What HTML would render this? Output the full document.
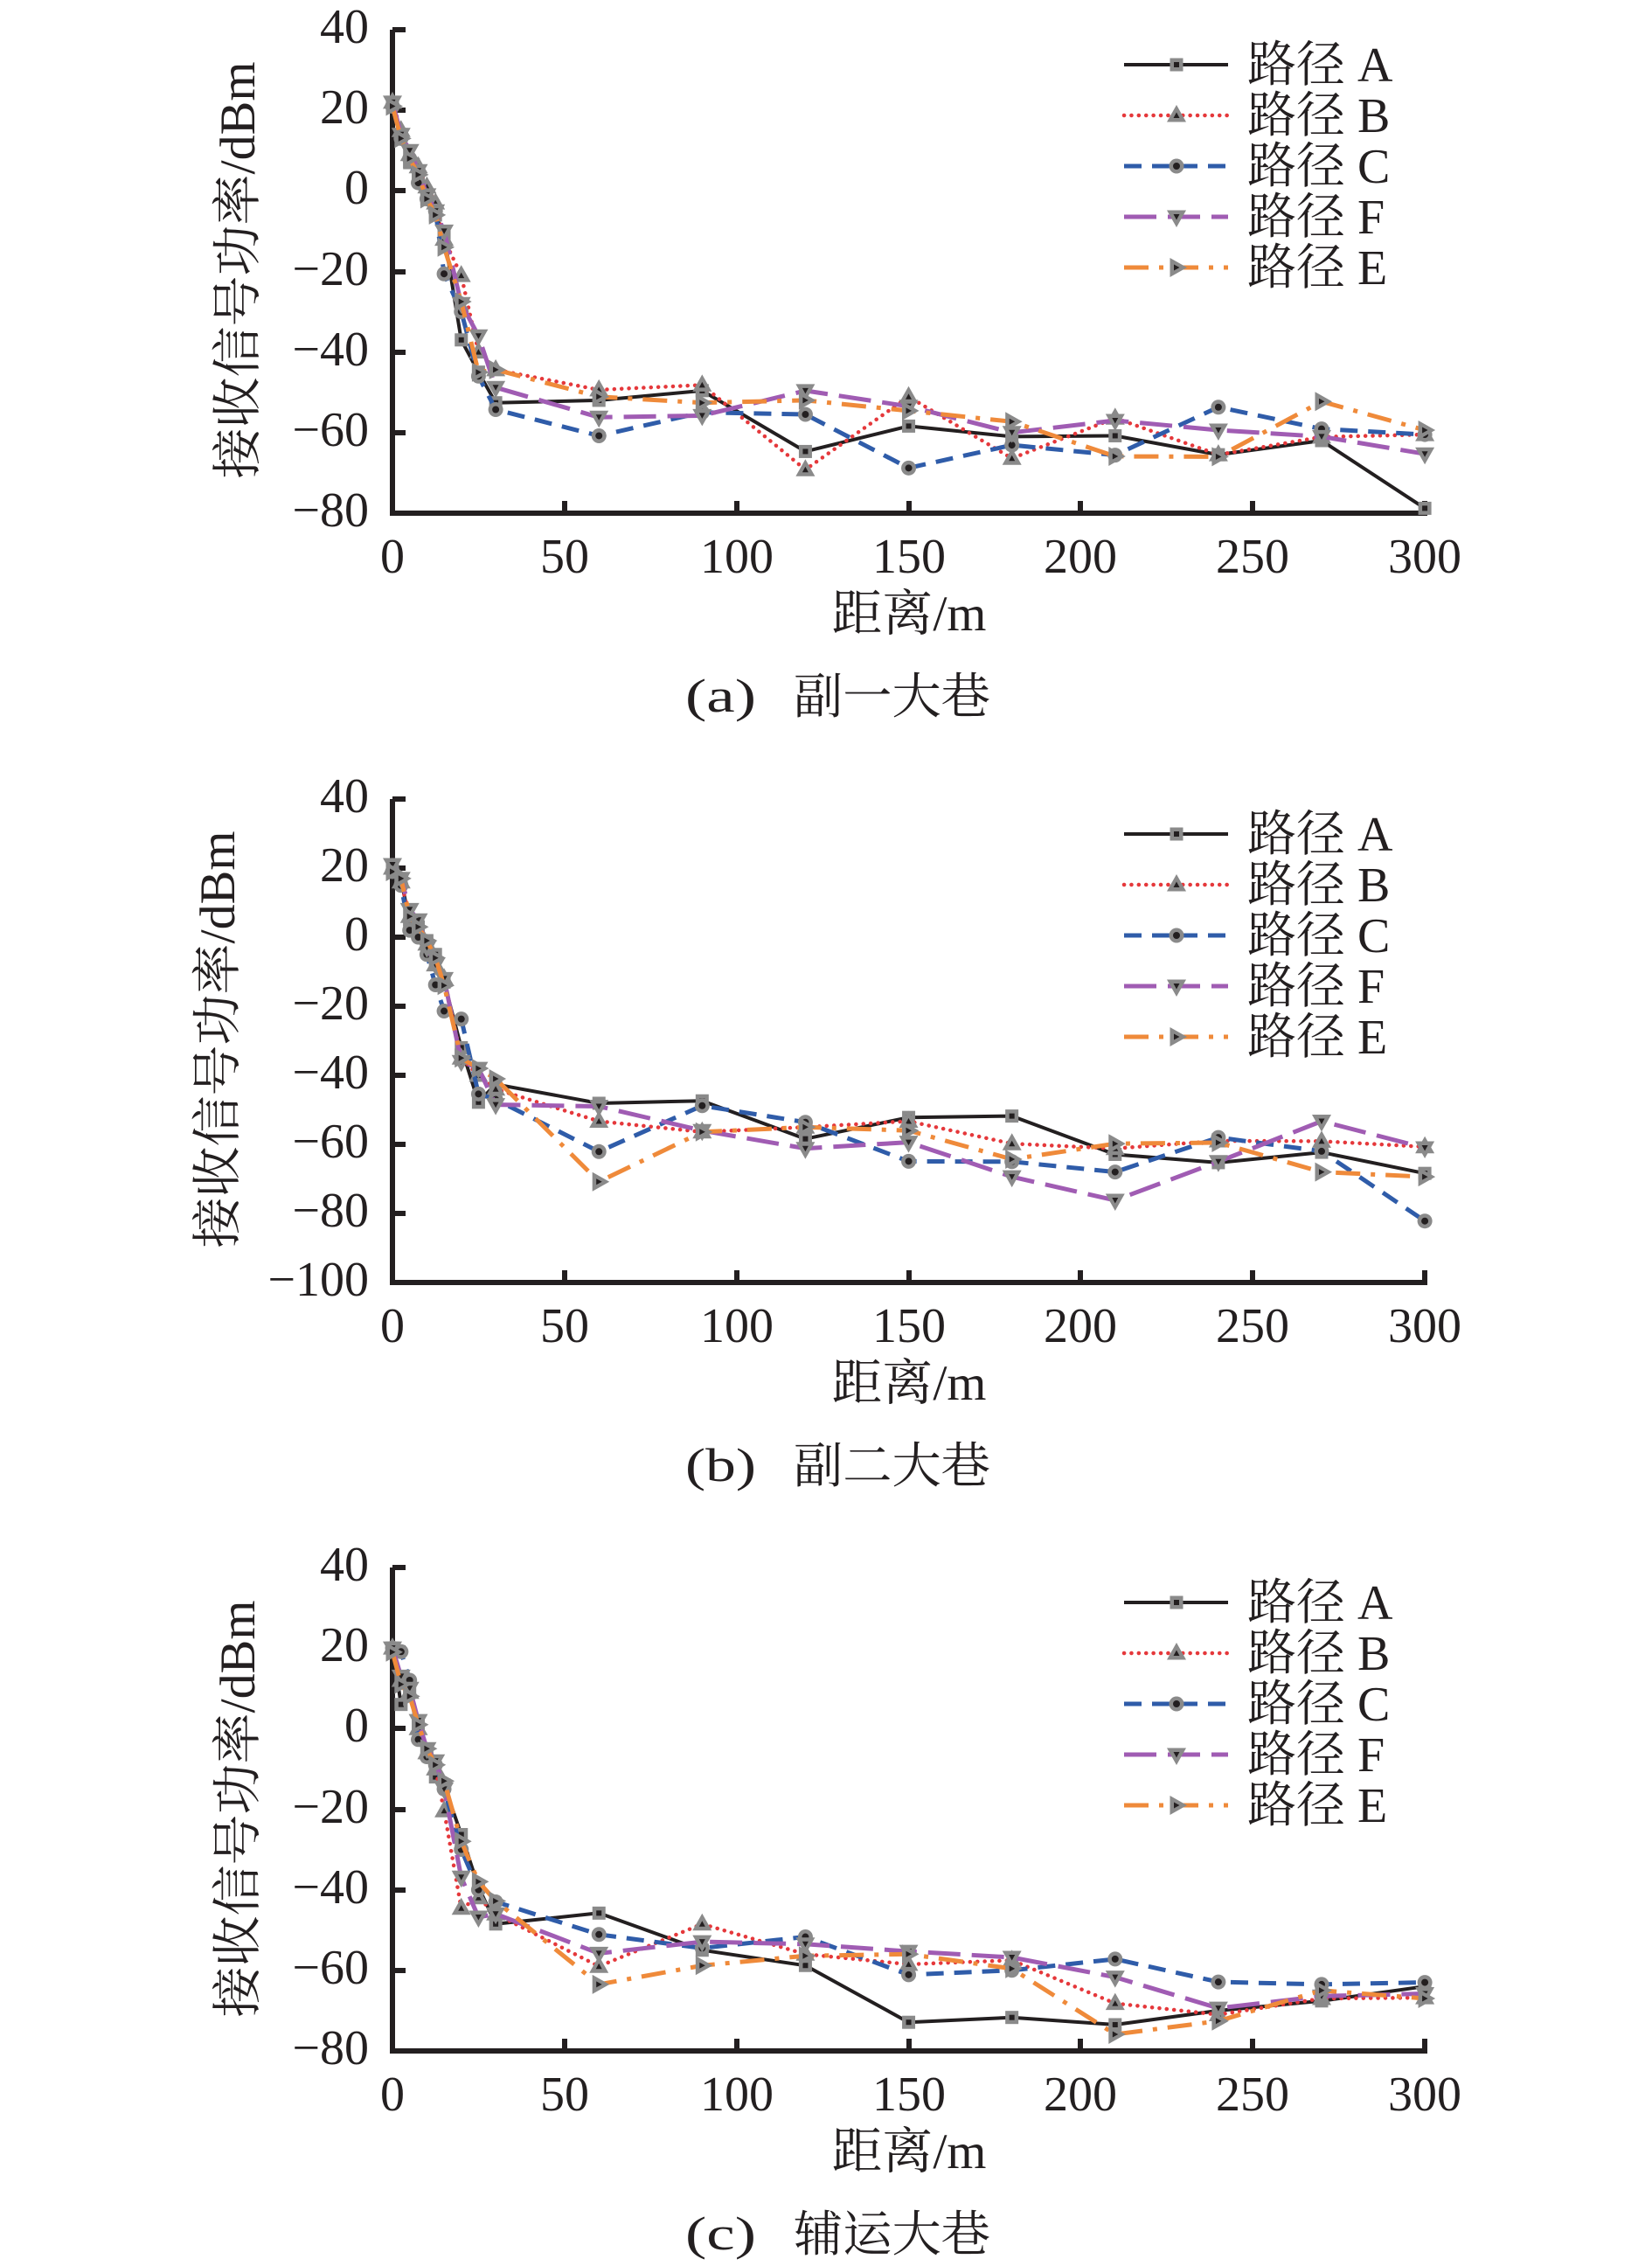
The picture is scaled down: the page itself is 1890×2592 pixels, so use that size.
<!DOCTYPE html>
<html><head><meta charset="utf-8">
<style>
html,body{margin:0;padding:0;background:#fff;}
svg{display:block;}
text{font-family:"Liberation Serif","Noto Serif CJK SC",serif;fill:#231f20;}
</style></head>
<body>
<svg id="plot" width="1890" height="2592" viewBox="0 0 1890 2592" xmlns="http://www.w3.org/2000/svg">
<rect width="1890" height="2592" fill="#fff"/>

<!-- Chart A -->
<g id="ca">
  <path d="M449 34 V587 H1630" stroke="#231f20" stroke-width="6" fill="none" stroke-linejoin="miter"/>
  <g stroke="#231f20" stroke-width="6">
    <line x1="449" x2="464" y1="34" y2="34"/><line x1="449" x2="464" y1="126" y2="126"/><line x1="449" x2="464" y1="218" y2="218"/><line x1="449" x2="464" y1="311" y2="311"/><line x1="449" x2="464" y1="403" y2="403"/><line x1="449" x2="464" y1="495" y2="495"/>
    <line x1="646" x2="646" y1="587" y2="573"/><line x1="843" x2="843" y1="587" y2="573"/><line x1="1040" x2="1040" y1="587" y2="573"/><line x1="1236" x2="1236" y1="587" y2="573"/><line x1="1433" x2="1433" y1="587" y2="573"/><line x1="1630" x2="1630" y1="590" y2="573"/>
  </g>
  <g font-size="56" text-anchor="end">
    <text x="422" y="49">40</text><text x="422" y="141">20</text><text x="422" y="233">0</text><text x="422" y="326">−20</text><text x="422" y="418">−40</text><text x="422" y="510">−60</text><text x="422" y="602">−80</text>
  </g>
  <g font-size="56" text-anchor="middle">
    <text x="449" y="655">0</text><text x="646" y="655">50</text><text x="843" y="655">100</text><text x="1040" y="655">150</text><text x="1236" y="655">200</text><text x="1433" y="655">250</text><text x="1630" y="655">300</text>
  </g>
  <text transform="translate(291,309) rotate(-90)" font-size="57" text-anchor="middle" textLength="477" lengthAdjust="spacingAndGlyphs">接收信号功率/dBm</text>
  <text x="1040" y="721" font-size="57" text-anchor="middle" textLength="177" lengthAdjust="spacingAndGlyphs">距离/m</text>
  <text x="784" y="814" font-size="54" textLength="81" lengthAdjust="spacingAndGlyphs">(a)</text>
  <text x="908" y="816" font-size="56" textLength="225" lengthAdjust="spacingAndGlyphs">副一大巷</text>
  <g font-size="56">
    <text x="1427" y="93">路径 A</text><text x="1427" y="151">路径 B</text><text x="1427" y="209">路径 C</text><text x="1427" y="267">路径 F</text><text x="1427" y="325">路径 E</text>
  </g>
</g>

<!-- Chart B -->
<g id="cb" transform="translate(0,880)">
  <path d="M449 34 V587 H1630" stroke="#231f20" stroke-width="6" fill="none" stroke-linejoin="miter"/>
  <g stroke="#231f20" stroke-width="6">
    <line x1="449" x2="464" y1="34" y2="34"/><line x1="449" x2="464" y1="113" y2="113"/><line x1="449" x2="464" y1="192" y2="192"/><line x1="449" x2="464" y1="271" y2="271"/><line x1="449" x2="464" y1="350" y2="350"/><line x1="449" x2="464" y1="429" y2="429"/><line x1="449" x2="464" y1="508" y2="508"/>
    <line x1="646" x2="646" y1="587" y2="573"/><line x1="843" x2="843" y1="587" y2="573"/><line x1="1040" x2="1040" y1="587" y2="573"/><line x1="1236" x2="1236" y1="587" y2="573"/><line x1="1433" x2="1433" y1="587" y2="573"/><line x1="1630" x2="1630" y1="590" y2="573"/>
  </g>
  <g font-size="56" text-anchor="end">
    <text x="422" y="49">40</text><text x="422" y="128">20</text><text x="422" y="207">0</text><text x="422" y="286">−20</text><text x="422" y="365">−40</text><text x="422" y="444">−60</text><text x="422" y="523">−80</text><text x="422" y="602">−100</text>
  </g>
  <g font-size="56" text-anchor="middle">
    <text x="449" y="655">0</text><text x="646" y="655">50</text><text x="843" y="655">100</text><text x="1040" y="655">150</text><text x="1236" y="655">200</text><text x="1433" y="655">250</text><text x="1630" y="655">300</text>
  </g>
  <text transform="translate(268,309) rotate(-90)" font-size="57" text-anchor="middle" textLength="477" lengthAdjust="spacingAndGlyphs">接收信号功率/dBm</text>
  <text x="1040" y="721" font-size="57" text-anchor="middle" textLength="177" lengthAdjust="spacingAndGlyphs">距离/m</text>
  <text x="784" y="814" font-size="54" textLength="81" lengthAdjust="spacingAndGlyphs">(b)</text>
  <text x="908" y="816" font-size="56" textLength="225" lengthAdjust="spacingAndGlyphs">副二大巷</text>
  <g font-size="56">
    <text x="1427" y="93">路径 A</text><text x="1427" y="151">路径 B</text><text x="1427" y="209">路径 C</text><text x="1427" y="267">路径 F</text><text x="1427" y="325">路径 E</text>
  </g>
</g>

<!-- Chart C -->
<g id="cc" transform="translate(0,1759)">
  <path d="M449 34 V587 H1630" stroke="#231f20" stroke-width="6" fill="none" stroke-linejoin="miter"/>
  <g stroke="#231f20" stroke-width="6">
    <line x1="449" x2="464" y1="34" y2="34"/><line x1="449" x2="464" y1="126" y2="126"/><line x1="449" x2="464" y1="218" y2="218"/><line x1="449" x2="464" y1="311" y2="311"/><line x1="449" x2="464" y1="403" y2="403"/><line x1="449" x2="464" y1="495" y2="495"/>
    <line x1="646" x2="646" y1="587" y2="573"/><line x1="843" x2="843" y1="587" y2="573"/><line x1="1040" x2="1040" y1="587" y2="573"/><line x1="1236" x2="1236" y1="587" y2="573"/><line x1="1433" x2="1433" y1="587" y2="573"/><line x1="1630" x2="1630" y1="590" y2="573"/>
  </g>
  <g font-size="56" text-anchor="end">
    <text x="422" y="49">40</text><text x="422" y="141">20</text><text x="422" y="233">0</text><text x="422" y="326">−20</text><text x="422" y="418">−40</text><text x="422" y="510">−60</text><text x="422" y="602">−80</text>
  </g>
  <g font-size="56" text-anchor="middle">
    <text x="449" y="655">0</text><text x="646" y="655">50</text><text x="843" y="655">100</text><text x="1040" y="655">150</text><text x="1236" y="655">200</text><text x="1433" y="655">250</text><text x="1630" y="655">300</text>
  </g>
  <text transform="translate(291,310) rotate(-90)" font-size="57" text-anchor="middle" textLength="477" lengthAdjust="spacingAndGlyphs">接收信号功率/dBm</text>
  <text x="1040" y="721" font-size="57" text-anchor="middle" textLength="177" lengthAdjust="spacingAndGlyphs">距离/m</text>
  <text x="784" y="814" font-size="54" textLength="81" lengthAdjust="spacingAndGlyphs">(c)</text>
  <text x="908" y="816" font-size="56" textLength="225" lengthAdjust="spacingAndGlyphs">辅运大巷</text>
  <g font-size="56">
    <text x="1427" y="93">路径 A</text><text x="1427" y="151">路径 B</text><text x="1427" y="209">路径 C</text><text x="1427" y="267">路径 F</text><text x="1427" y="325">路径 E</text>
  </g>
</g>
<g id="series"></g>
</svg>
<script>
(function(){
var NS="http://www.w3.org/2000/svg";
var root=document.getElementById('series');
function el(tag,attrs,parent){var e=document.createElementNS(NS,tag);for(var k in attrs)e.setAttribute(k,attrs[k]);(parent||root).appendChild(e);return e;}
var G='#8a8a8a',K='#231f20';
var styles={
 A:{stroke:'#231f20',w:4,dash:null,cap:'butt',m:'sq'},
 B:{stroke:'#e5383b',w:4.5,dash:'0.1 8.3',cap:'round',m:'tu'},
 C:{stroke:'#2f5ca9',w:5,dash:'20 12',cap:'butt',m:'ci'},
 F:{stroke:'#a05cb3',w:5,dash:'37 13',cap:'butt',m:'td'},
 E:{stroke:'#ef8a3a',w:5,dash:'28 12 5 12',cap:'butt',m:'tr'}
};
function pts(a){return a.map(function(p){return p[0].toFixed(1)+','+p[1].toFixed(1);}).join(' ');}
function marker(t,x,y,g){
 if(t=='sq'){el('rect',{x:x-7.5,y:y-7.5,width:15,height:15,fill:G},g);el('rect',{x:x-3,y:y-3,width:6,height:6,fill:K},g);}
 else if(t=='ci'){el('circle',{cx:x,cy:y,r:8.5,fill:G},g);el('circle',{cx:x,cy:y,r:4,fill:K},g);}
 else if(t=='tu'){el('polygon',{points:pts([[x,y-12],[x+11,y+7.5],[x-11,y+7.5]]),fill:G},g);el('polygon',{points:pts([[x,y-3.5],[x+3.5,y+3],[x-3.5,y+3]]),fill:K},g);}
 else if(t=='td'){el('polygon',{points:pts([[x-11,y-7.5],[x+11,y-7.5],[x,y+12]]),fill:G},g);el('polygon',{points:pts([[x-3.5,y-3],[x+3.5,y-3],[x,y+3.5]]),fill:K},g);}
 else if(t=='tr'){el('polygon',{points:pts([[x-7.5,y-11],[x-7.5,y+11],[x+12,y]]),fill:G},g);el('polygon',{points:pts([[x-3,y-3.5],[x-3,y+3.5],[x+3.5,y]]),fill:K},g);}
}
var xs=[0,2.5,5,7.5,10,12.5,15,20,25,30,60,90,120,150,180,210,240,270,300];
function X(v){return 449+v*3.937;}
var charts=[
 {y0:218.3,k:4.608,off:0,d:{
  A:[22,14,7,3,-2,-6,-11,-37,-45,-52.6,-52,-49.6,-64.7,-58.4,-61,-60.8,-65.5,-62,-78.8],
  B:[22,15,9,6,1,-3,-12,-21,-40,-44.4,-49.4,-48.2,-69.2,-51.1,-66.4,-56.4,-65.5,-61.1,-60.5],
  C:[21,13,8,2,-2,-5,-20.6,-30,-46,-54.3,-60.8,-55,-55.5,-68.8,-63.1,-65.6,-53.7,-59.1,-60.5],
  F:[22,14,10,5,-1,-5,-10,-28,-36,-48.8,-56.2,-55.8,-49.6,-53.5,-60,-57,-59.4,-61,-65.3],
  E:[21,13,8,4,-2,-6,-14,-27.5,-45,-44.4,-51.1,-52.6,-52,-54.6,-57.3,-65.9,-66,-52.3,-59.4]}},
 {y0:1072,k:3.95,off:880,d:{
  A:[20,17,4,3,-1,-5,-13,-32,-47.8,-42.6,-48.1,-47.4,-58.4,-52.2,-51.8,-62.9,-65.3,-62.3,-68.4],
  B:[20,16,6,2,-2,-8,-12,-35,-40,-44,-53.3,-56.4,-55,-53.3,-59.8,-61.2,-59,-59.1,-60.7],
  C:[19,15,2,0,-5,-13.8,-21.4,-23.7,-45.4,-47,-62.1,-48.8,-53.6,-64.9,-65,-68,-58,-62,-82.2],
  F:[21,17,8,5,-3,-8,-12,-36,-38,-48.5,-49,-56,-61.2,-59.4,-69.4,-76.2,-65,-53.3,-61],
  E:[19,17,6,3,-1,-6,-14,-35,-38,-41,-70.8,-56.4,-55,-56,-64.3,-59.8,-59.5,-68,-69.4]}},
 {y0:1977.3,k:4.608,off:1759,d:{
  A:[20,6,10,1,-6,-12,-14,-26.3,-39.3,-48.5,-45.8,-55,-58.8,-72.9,-71.7,-73.5,-70,-67.6,-64],
  B:[20,12,9,0,-6,-10,-20.4,-44.6,-42,-46,-59,-48.5,-56,-58.5,-57.5,-68.2,-71,-67,-66.8],
  C:[20,19.1,12,-2.7,-7,-9,-15,-30,-40,-43,-51.1,-54.5,-51.7,-61.1,-60,-57.2,-62.9,-63.5,-63],
  F:[20,13,10,2,-5,-8,-15,-36.9,-46.8,-46,-55.8,-52.9,-53.5,-55.3,-56.8,-61.7,-69.4,-66.4,-65.8],
  E:[19,11,8,1,-5,-9,-13,-28,-38,-42.8,-63.5,-58.8,-56.4,-56,-59.6,-75.9,-72.6,-65,-67]}}
];
var order=['A','B','C','F','E'];
charts.forEach(function(c){
 order.forEach(function(s,i){
  var st=styles[s];var g=el('g',{});
  var p=c.d[s].map(function(v,j){return [X(xs[j]),c.y0-v*c.k];});
  var a={points:pts(p),fill:'none',stroke:st.stroke,'stroke-width':st.w,'stroke-linecap':st.cap,'stroke-linejoin':'round'};
  if(st.dash)a['stroke-dasharray']=st.dash;
  el('polyline',a,g);
  p.forEach(function(q){marker(st.m,q[0],q[1],g);});
  var ly=c.off+74+58*i;
  var la={x1:1286,x2:1405,y1:ly,y2:ly,stroke:st.stroke,'stroke-width':st.w,'stroke-linecap':st.cap};
  if(st.dash)la['stroke-dasharray']=st.dash;
  el('line',la,g);
  marker(st.m,1346,ly,g);
 });
});
})();
</script>
</body></html>
